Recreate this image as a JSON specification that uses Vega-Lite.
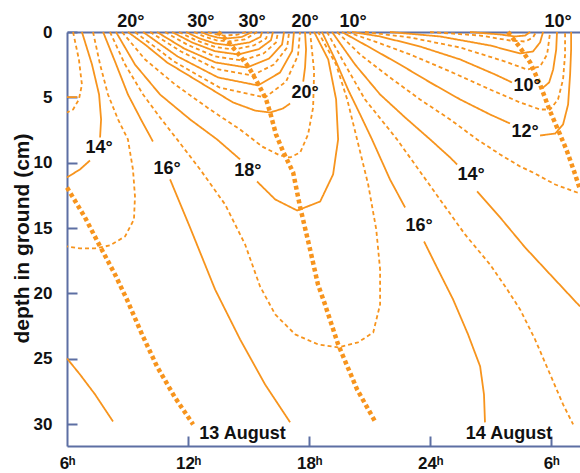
{
"$schema":"https://vega.github.io/schema/vega-lite/v6.json",
"width":513,"height":414,
"autosize":{"type":"none"},
"padding":{"left":67,"top":32,"right":0,"bottom":27},
"background":"white",
"config":{"view":{"stroke":null},"font":"Liberation Sans"},
"resolve":{"axis":{"x":"independent","y":"independent"}},
"datasets":{
"contours":[
{"c":"L12","k":"s","hour":6.0,"depth":4.98},{"c":"L12","k":"s","hour":6.5,"depth":4.98},
{"c":"L13","k":"d","hour":6.30,"depth":0},{"c":"L13","k":"d","hour":6.59,"depth":2.10},{"c":"L13","k":"d","hour":6.74,"depth":4.02},{"c":"L13","k":"d","hour":6.59,"depth":5.16},{"c":"L13","k":"d","hour":6.30,"depth":5.93},{"c":"L13","k":"d","hour":6.00,"depth":6.16},
{"c":"L14a","k":"s","hour":6.74,"depth":0},{"c":"L14a","k":"s","hour":7.24,"depth":2.49},{"c":"L14a","k":"s","hour":7.59,"depth":4.78},{"c":"L14a","k":"s","hour":7.69,"depth":6.69},{"c":"L14a","k":"s","hour":7.64,"depth":8.07},
{"c":"L14b","k":"s","hour":7.14,"depth":9.83},{"c":"L14b","k":"s","hour":6.64,"depth":10.52},{"c":"L14b","k":"s","hour":6.00,"depth":11.13},
{"c":"L15","k":"d","hour":7.29,"depth":0},{"c":"L15","k":"d","hour":7.64,"depth":2.49},{"c":"L15","k":"d","hour":8.03,"depth":4.78},{"c":"L15","k":"d","hour":8.53,"depth":6.69},{"c":"L15","k":"d","hour":9.02,"depth":8.22},{"c":"L15","k":"d","hour":9.27,"depth":10.52},{"c":"L15","k":"d","hour":9.37,"depth":12.58},{"c":"L15","k":"d","hour":9.32,"depth":14.34},{"c":"L15","k":"d","hour":8.88,"depth":15.64},{"c":"L15","k":"d","hour":8.13,"depth":16.33},{"c":"L15","k":"d","hour":7.39,"depth":16.56},{"c":"L15","k":"d","hour":6.64,"depth":16.56},{"c":"L15","k":"d","hour":6.00,"depth":16.41},
{"c":"L16a","k":"s","hour":7.79,"depth":0},{"c":"L16a","k":"s","hour":8.38,"depth":2.26},{"c":"L16a","k":"s","hour":9.02,"depth":4.78},{"c":"L16a","k":"s","hour":9.72,"depth":6.85},{"c":"L16a","k":"s","hour":10.26,"depth":8.38},
{"c":"L16b","k":"s","hour":11.11,"depth":11.28},{"c":"L16b","k":"s","hour":12.10,"depth":14.96},{"c":"L16b","k":"s","hour":13.34,"depth":19.70},{"c":"L16b","k":"s","hour":14.58,"depth":23.52},{"c":"L16b","k":"s","hour":15.82,"depth":26.97},{"c":"L16b","k":"s","hour":17.06,"depth":29.87},
{"c":"L16z","k":"s","hour":6.00,"depth":24.98},{"c":"L16z","k":"s","hour":6.64,"depth":26.20},{"c":"L16z","k":"s","hour":7.39,"depth":27.73},{"c":"L16z","k":"s","hour":8.28,"depth":29.80},
{"c":"L17","k":"d","hour":8.13,"depth":0},{"c":"L17","k":"d","hour":8.88,"depth":2.49},{"c":"L17","k":"d","hour":9.77,"depth":4.78},{"c":"L17","k":"d","hour":10.61,"depth":6.54},{"c":"L17","k":"d","hour":11.46,"depth":8.22},{"c":"L17","k":"d","hour":12.60,"depth":10.52},{"c":"L17","k":"d","hour":13.84,"depth":13.20},{"c":"L17","k":"d","hour":14.83,"depth":16.26},{"c":"L17","k":"d","hour":15.57,"depth":19.47},{"c":"L17","k":"d","hour":16.32,"depth":21.61},{"c":"L17","k":"d","hour":17.31,"depth":23.14},{"c":"L17","k":"d","hour":18.45,"depth":23.91},{"c":"L17","k":"d","hour":19.44,"depth":24.14},{"c":"L17","k":"d","hour":20.43,"depth":23.75},{"c":"L17","k":"d","hour":21.18,"depth":22.99},{"c":"L17","k":"d","hour":21.52,"depth":20.85},{"c":"L17","k":"d","hour":21.52,"depth":18.17},{"c":"L17","k":"d","hour":21.33,"depth":15.11},{"c":"L17","k":"d","hour":20.93,"depth":11.67},{"c":"L17","k":"d","hour":20.38,"depth":8.22},{"c":"L17","k":"d","hour":19.89,"depth":5.16},{"c":"L17","k":"d","hour":19.34,"depth":2.49},{"c":"L17","k":"d","hour":18.45,"depth":0},
{"c":"L18a","k":"s","hour":8.43,"depth":0},{"c":"L18a","k":"s","hour":9.37,"depth":2.49},{"c":"L18a","k":"s","hour":10.61,"depth":4.78},{"c":"L18a","k":"s","hour":12.10,"depth":6.69},{"c":"L18a","k":"s","hour":13.44,"depth":8.22},{"c":"L18a","k":"s","hour":14.58,"depth":9.75},
{"c":"L18b","k":"s","hour":15.42,"depth":11.44},{"c":"L18b","k":"s","hour":16.32,"depth":12.81},{"c":"L18b","k":"s","hour":17.41,"depth":13.66},{"c":"L18b","k":"s","hour":18.55,"depth":12.97},{"c":"L18b","k":"s","hour":19.19,"depth":10.90},{"c":"L18b","k":"s","hour":19.44,"depth":8.22},{"c":"L18b","k":"s","hour":19.34,"depth":5.16},{"c":"L18b","k":"s","hour":18.95,"depth":2.10},{"c":"L18b","k":"s","hour":18.25,"depth":0},
{"c":"L19","k":"d","hour":8.73,"depth":0},{"c":"L19","k":"d","hour":9.87,"depth":2.10},{"c":"L19","k":"d","hour":11.36,"depth":4.02},{"c":"L19","k":"d","hour":13.09,"depth":5.93},{"c":"L19","k":"d","hour":14.58,"depth":7.46},{"c":"L19","k":"d","hour":15.67,"depth":8.76},{"c":"L19","k":"d","hour":16.56,"depth":9.45},{"c":"L19","k":"d","hour":17.06,"depth":9.60},{"c":"L19","k":"d","hour":17.56,"depth":9.22},{"c":"L19","k":"d","hour":17.95,"depth":7.84},{"c":"L19","k":"d","hour":18.20,"depth":5.78},{"c":"L19","k":"d","hour":18.25,"depth":3.02},{"c":"L19","k":"d","hour":18.05,"depth":0},
{"c":"L20a","k":"s","hour":9.02,"depth":0},{"c":"L20a","k":"s","hour":9.87,"depth":0.96},{"c":"L20a","k":"s","hour":10.96,"depth":2.33},{"c":"L20a","k":"s","hour":12.60,"depth":3.86},{"c":"L20a","k":"s","hour":14.23,"depth":5.39},{"c":"L20a","k":"s","hour":15.32,"depth":6.01},{"c":"L20a","k":"s","hour":16.07,"depth":6.16},{"c":"L20a","k":"s","hour":16.71,"depth":5.85},{"c":"L20a","k":"s","hour":17.06,"depth":5.47},
{"c":"L20b","k":"s","hour":17.71,"depth":3.79},{"c":"L20b","k":"s","hour":17.80,"depth":2.72},{"c":"L20b","k":"s","hour":17.85,"depth":1.34},{"c":"L20b","k":"s","hour":17.80,"depth":0},
{"c":"L21","k":"d","hour":9.37,"depth":0},{"c":"L21","k":"d","hour":11.31,"depth":2.26},{"c":"L21","k":"d","hour":13.56,"depth":4.25},{"c":"L21","k":"d","hour":15.82,"depth":5.01},{"c":"L21","k":"d","hour":16.86,"depth":3.79},{"c":"L21","k":"d","hour":17.45,"depth":1.80},{"c":"L21","k":"d","hour":17.55,"depth":0},
{"c":"L22","k":"s","hour":9.77,"depth":0},{"c":"L22","k":"s","hour":11.48,"depth":1.87},{"c":"L22","k":"s","hour":13.49,"depth":3.48},{"c":"L22","k":"s","hour":15.47,"depth":4.09},{"c":"L22","k":"s","hour":16.56,"depth":3.10},{"c":"L22","k":"s","hour":17.16,"depth":1.45},{"c":"L22","k":"s","hour":17.25,"depth":0},
{"c":"L23","k":"d","hour":10.12,"depth":0},{"c":"L23","k":"d","hour":11.65,"depth":1.49},{"c":"L23","k":"d","hour":13.39,"depth":2.83},{"c":"L23","k":"d","hour":15.17,"depth":3.33},{"c":"L23","k":"d","hour":16.26,"depth":2.49},{"c":"L23","k":"d","hour":16.91,"depth":1.19},{"c":"L23","k":"d","hour":17.01,"depth":0},
{"c":"L24","k":"s","hour":10.46,"depth":0},{"c":"L24","k":"s","hour":11.80,"depth":1.26},{"c":"L24","k":"s","hour":13.36,"depth":2.33},{"c":"L24","k":"s","hour":14.92,"depth":2.72},{"c":"L24","k":"s","hour":16.02,"depth":2.03},{"c":"L24","k":"s","hour":16.66,"depth":0.96},{"c":"L24","k":"s","hour":16.76,"depth":0},
{"c":"L25","k":"d","hour":10.86,"depth":0},{"c":"L25","k":"d","hour":12.00,"depth":1.00},{"c":"L25","k":"d","hour":13.34,"depth":1.87},{"c":"L25","k":"d","hour":14.68,"depth":2.18},{"c":"L25","k":"d","hour":15.75,"depth":1.64},{"c":"L25","k":"d","hour":16.36,"depth":0.80},{"c":"L25","k":"d","hour":16.46,"depth":0},
{"c":"L26","k":"s","hour":11.21,"depth":0},{"c":"L26","k":"s","hour":12.20,"depth":0.80},{"c":"L26","k":"s","hour":13.34,"depth":1.47},{"c":"L26","k":"s","hour":14.48,"depth":1.72},{"c":"L26","k":"s","hour":15.52,"depth":1.30},{"c":"L26","k":"s","hour":16.11,"depth":0.63},{"c":"L26","k":"s","hour":16.21,"depth":0},
{"c":"L27","k":"d","hour":11.55,"depth":0},{"c":"L27","k":"d","hour":12.37,"depth":0.62},{"c":"L27","k":"d","hour":13.34,"depth":1.15},{"c":"L27","k":"d","hour":14.28,"depth":1.34},{"c":"L27","k":"d","hour":15.27,"depth":1.02},{"c":"L27","k":"d","hour":15.87,"depth":0.50},{"c":"L27","k":"d","hour":15.97,"depth":0},
{"c":"L28","k":"s","hour":11.90,"depth":0},{"c":"L28","k":"s","hour":12.57,"depth":0.49},{"c":"L28","k":"s","hour":13.34,"depth":0.88},{"c":"L28","k":"s","hour":14.13,"depth":1.03},{"c":"L28","k":"s","hour":15.05,"depth":0.79},{"c":"L28","k":"s","hour":15.59,"depth":0.38},{"c":"L28","k":"s","hour":15.67,"depth":0},
{"c":"L29","k":"d","hour":12.30,"depth":0},{"c":"L29","k":"d","hour":12.79,"depth":0.34},{"c":"L29","k":"d","hour":13.39,"depth":0.63},{"c":"L29","k":"d","hour":13.98,"depth":0.73},{"c":"L29","k":"d","hour":14.83,"depth":0.56},{"c":"L29","k":"d","hour":15.42,"depth":0},
{"c":"L30","k":"s","hour":12.64,"depth":0},{"c":"L30","k":"s","hour":13.02,"depth":0.24},{"c":"L30","k":"s","hour":13.44,"depth":0.42},{"c":"L30","k":"s","hour":13.88,"depth":0.50},{"c":"L30","k":"s","hour":14.66,"depth":0.38},{"c":"L30","k":"s","hour":15.17,"depth":0},
{"c":"L31","k":"d","hour":12.99,"depth":0},{"c":"L31","k":"d","hour":13.24,"depth":0.15},{"c":"L31","k":"d","hour":13.78,"depth":0.27},{"c":"L31","k":"d","hour":14.43,"depth":0.21},{"c":"L31","k":"d","hour":14.87,"depth":0},
{"c":"R16a","k":"s","hour":18.64,"depth":0},{"c":"R16a","k":"s","hour":19.29,"depth":2.10},{"c":"R16a","k":"s","hour":19.93,"depth":4.40},{"c":"R16a","k":"s","hour":20.53,"depth":6.31},{"c":"R16a","k":"s","hour":21.12,"depth":8.22},{"c":"R16a","k":"s","hour":22.01,"depth":11.28},{"c":"R16a","k":"s","hour":22.76,"depth":13.43},
{"c":"R16b","k":"s","hour":23.70,"depth":16.03},{"c":"R16b","k":"s","hour":24.34,"depth":18.02},{"c":"R16b","k":"s","hour":25.14,"depth":20.47},{"c":"R16b","k":"s","hour":25.88,"depth":23.14},{"c":"R16b","k":"s","hour":26.48,"depth":25.59},{"c":"R16b","k":"s","hour":26.67,"depth":27.73},{"c":"R16b","k":"s","hour":26.72,"depth":29.87},
{"c":"R15","k":"d","hour":18.89,"depth":0},{"c":"R15","k":"d","hour":19.78,"depth":2.49},{"c":"R15","k":"d","hour":20.77,"depth":5.16},{"c":"R15","k":"d","hour":21.77,"depth":7.08},{"c":"R15","k":"d","hour":22.36,"depth":8.22},{"c":"R15","k":"d","hour":23.25,"depth":10.14},{"c":"R15","k":"d","hour":24.49,"depth":12.82},{"c":"R15","k":"d","hour":25.73,"depth":15.49},{"c":"R15","k":"d","hour":26.97,"depth":17.79},{"c":"R15","k":"d","hour":27.82,"depth":19.70},{"c":"R15","k":"d","hour":28.46,"depth":21.23},{"c":"R15","k":"d","hour":29.20,"depth":23.52},{"c":"R15","k":"d","hour":29.95,"depth":26.20},{"c":"R15","k":"d","hour":30.59,"depth":28.50},{"c":"R15","k":"d","hour":31.09,"depth":30.03},
{"c":"R14a","k":"s","hour":19.14,"depth":0},{"c":"R14a","k":"s","hour":20.28,"depth":2.49},{"c":"R14a","k":"s","hour":21.52,"depth":4.78},{"c":"R14a","k":"s","hour":22.76,"depth":6.54},{"c":"R14a","k":"s","hour":24.00,"depth":8.22},{"c":"R14a","k":"s","hour":24.99,"depth":9.60},{"c":"R14a","k":"s","hour":25.34,"depth":10.14},
{"c":"R14b","k":"s","hour":26.33,"depth":12.20},{"c":"R14b","k":"s","hour":27.47,"depth":14.19},{"c":"R14b","k":"s","hour":28.71,"depth":16.49},{"c":"R14b","k":"s","hour":29.95,"depth":18.55},{"c":"R14b","k":"s","hour":31.43,"depth":21.00},
{"c":"R13","k":"d","hour":19.39,"depth":0},{"c":"R13","k":"d","hour":20.53,"depth":1.72},{"c":"R13","k":"d","hour":22.01,"depth":3.48},{"c":"R13","k":"d","hour":23.50,"depth":5.16},{"c":"R13","k":"d","hour":24.99,"depth":6.69},{"c":"R13","k":"d","hour":26.33,"depth":8.22},{"c":"R13","k":"d","hour":27.47,"depth":9.37},{"c":"R13","k":"d","hour":28.46,"depth":10.29},{"c":"R13","k":"d","hour":29.10,"depth":10.75},{"c":"R13","k":"d","hour":30.20,"depth":11.67},{"c":"R13","k":"d","hour":31.29,"depth":12.28},{"c":"R13","k":"d","hour":31.43,"depth":12.30},
{"c":"R12a","k":"s","hour":19.63,"depth":0},{"c":"R12a","k":"s","hour":21.02,"depth":1.19},{"c":"R12a","k":"s","hour":22.51,"depth":2.49},{"c":"R12a","k":"s","hour":24.00,"depth":3.86},{"c":"R12a","k":"s","hour":25.49,"depth":5.16},{"c":"R12a","k":"s","hour":26.97,"depth":6.31},{"c":"R12a","k":"s","hour":27.96,"depth":7.00},
{"c":"R12b","k":"s","hour":29.45,"depth":7.92},{"c":"R12b","k":"s","hour":30.20,"depth":7.77},{"c":"R12b","k":"s","hour":30.59,"depth":7.08},{"c":"R12b","k":"s","hour":30.84,"depth":5.55},{"c":"R12b","k":"s","hour":30.94,"depth":3.25},{"c":"R12b","k":"s","hour":30.99,"depth":1.34},{"c":"R12b","k":"s","hour":30.99,"depth":0},
{"c":"R11","k":"d","hour":19.88,"depth":0},{"c":"R11","k":"d","hour":21.27,"depth":0.73},{"c":"R11","k":"d","hour":23.01,"depth":1.72},{"c":"R11","k":"d","hour":24.99,"depth":3.02},{"c":"R11","k":"d","hour":26.97,"depth":4.40},{"c":"R11","k":"d","hour":28.46,"depth":5.39},{"c":"R11","k":"d","hour":29.45,"depth":5.93},{"c":"R11","k":"d","hour":29.95,"depth":5.93},{"c":"R11","k":"d","hour":30.34,"depth":5.16},{"c":"R11","k":"d","hour":30.59,"depth":3.63},{"c":"R11","k":"d","hour":30.69,"depth":1.72},{"c":"R11","k":"d","hour":30.69,"depth":0},
{"c":"R10a","k":"s","hour":20.13,"depth":0},{"c":"R10a","k":"s","hour":21.52,"depth":0.34},{"c":"R10a","k":"s","hour":23.50,"depth":1.11},{"c":"R10a","k":"s","hour":25.49,"depth":2.10},{"c":"R10a","k":"s","hour":27.22,"depth":3.25},{"c":"R10a","k":"s","hour":28.06,"depth":3.86},
{"c":"R10b","k":"s","hour":29.55,"depth":4.32},{"c":"R10b","k":"s","hour":29.90,"depth":3.86},{"c":"R10b","k":"s","hour":30.10,"depth":2.87},{"c":"R10b","k":"s","hour":30.25,"depth":1.34},{"c":"R10b","k":"s","hour":30.29,"depth":0},
{"c":"R9","k":"d","hour":20.77,"depth":0},{"c":"R9","k":"d","hour":23.01,"depth":0.42},{"c":"R9","k":"d","hour":25.49,"depth":1.19},{"c":"R9","k":"d","hour":27.72,"depth":2.26},{"c":"R9","k":"d","hour":28.81,"depth":2.87},{"c":"R9","k":"d","hour":29.45,"depth":2.64},{"c":"R9","k":"d","hour":29.80,"depth":1.72},{"c":"R9","k":"d","hour":29.95,"depth":0},
{"c":"R8","k":"s","hour":22.01,"depth":0},{"c":"R8","k":"s","hour":24.49,"depth":0.34},{"c":"R8","k":"s","hour":26.97,"depth":1.03},{"c":"R8","k":"s","hour":28.46,"depth":1.64},{"c":"R8","k":"s","hour":29.10,"depth":1.49},{"c":"R8","k":"s","hour":29.45,"depth":0.80},{"c":"R8","k":"s","hour":29.60,"depth":0},
{"c":"R7","k":"d","hour":24.00,"depth":0},{"c":"R7","k":"d","hour":26.48,"depth":0.27},{"c":"R7","k":"d","hour":27.96,"depth":0.65},{"c":"R7","k":"d","hour":28.71,"depth":0.73},{"c":"R7","k":"d","hour":29.10,"depth":0.42},{"c":"R7","k":"d","hour":29.25,"depth":0},
{"c":"R6","k":"s","hour":25.98,"depth":0},{"c":"R6","k":"s","hour":27.47,"depth":0.19},{"c":"R6","k":"s","hour":28.21,"depth":0.34},{"c":"R6","k":"s","hour":28.71,"depth":0.27},{"c":"R6","k":"s","hour":28.96,"depth":0}
],
"ridges":[
{"c":"M1","hour":6.00,"depth":11.90},{"c":"M1","hour":6.89,"depth":14.19},{"c":"M1","hour":7.64,"depth":16.41},{"c":"M1","hour":8.38,"depth":18.55},{"c":"M1","hour":8.97,"depth":20.47},{"c":"M1","hour":9.72,"depth":23.14},{"c":"M1","hour":10.46,"depth":25.59},{"c":"M1","hour":11.35,"depth":27.96},{"c":"M1","hour":12.25,"depth":30.03},
{"c":"M2","hour":13.49,"depth":0},{"c":"M2","hour":13.98,"depth":0.73},{"c":"M2","hour":14.48,"depth":1.64},{"c":"M2","hour":15.02,"depth":2.72},{"c":"M2","hour":15.52,"depth":4.09},{"c":"M2","hour":15.87,"depth":5.16},{"c":"M2","hour":16.07,"depth":6.16},{"c":"M2","hour":16.36,"depth":7.84},{"c":"M2","hour":16.71,"depth":9.14},{"c":"M2","hour":17.21,"depth":10.75},{"c":"M2","hour":17.55,"depth":13.35},{"c":"M2","hour":18.05,"depth":16.64},{"c":"M2","hour":18.44,"depth":19.32},{"c":"M2","hour":18.74,"depth":20.62},{"c":"M2","hour":19.44,"depth":23.91},{"c":"M2","hour":20.38,"depth":27.35},{"c":"M2","hour":21.27,"depth":29.80},
{"c":"M3","hour":27.86,"depth":0},{"c":"M3","hour":28.46,"depth":1.19},{"c":"M3","hour":28.96,"depth":2.33},{"c":"M3","hour":29.45,"depth":4.02},{"c":"M3","hour":29.95,"depth":6.08},{"c":"M3","hour":30.44,"depth":7.84},{"c":"M3","hour":30.79,"depth":9.14},{"c":"M3","hour":31.14,"depth":10.67},{"c":"M3","hour":31.43,"depth":12.05}
],
"labels":[
{"label":"14°","hour":7.59,"depth":8.84},
{"label":"16°","hour":10.96,"depth":10.52},
{"label":"18°","hour":14.97,"depth":10.60},
{"label":"20°","hour":17.80,"depth":4.70},
{"label":"16°","hour":23.45,"depth":14.88},
{"label":"14°","hour":26.03,"depth":10.98},
{"label":"12°","hour":28.71,"depth":7.69},
{"label":"10°","hour":28.81,"depth":4.17},
{"label":"20°","hour":9.17,"depth":-0.75},
{"label":"30°","hour":12.64,"depth":-0.75},
{"label":"30°","hour":15.17,"depth":-0.75},
{"label":"20°","hour":17.80,"depth":-0.75},
{"label":"10°","hour":20.18,"depth":-0.75},
{"label":"10°","hour":30.34,"depth":-0.75},
{"label":"13 August","hour":14.70,"depth":30.79},
{"label":"14 August","hour":27.91,"depth":30.79}
]
},
"layer":[
{
"data":{"name":"contours"},
"mark":{"type":"line","color":"#f7941d","strokeWidth":1.8,"strokeCap":"butt","strokeJoin":"round"},
"encoding":{
"x":{"field":"hour","type":"quantitative","scale":{"domain":[6,31.43],"nice":false,"zero":false},
"axis":{"orient":"bottom","values":[6,12,18,24,30],"labelExpr":"(datum.value == 30 ? 6 : datum.value) + 'ʰ'","title":null,"grid":false,"domainColor":"#5d6fa3","domainWidth":2,"ticks":false,"labelPadding":9,"labelFont":"Liberation Sans","labelFontSize":17,"labelFontWeight":"bold","labelColor":"#111111","labelFlush":false,"labelOverlap":false}},
"y":{"field":"depth","type":"quantitative","scale":{"domain":[0,31.68],"nice":false,"zero":false,"reverse":true},
"axis":{"orient":"left","values":[0,5,10,15,20,25,30],"title":"depth in ground (cm)","titleFont":"Liberation Sans","titleFontSize":21,"titleFontWeight":"bold","titleColor":"#111111","titleX":-45,"titleY":206,"titleAngle":-90,"titleAlign":"center","titleBaseline":"middle","grid":false,"domainColor":"#5d6fa3","domainWidth":2,"ticks":false,"labelPadding":15,"labelFont":"Liberation Sans","labelFontSize":17,"labelFontWeight":"bold","labelColor":"#111111","labelFlush":false,"labelOverlap":false}},
"detail":{"field":"c"},
"order":{"value":null},
"strokeDash":{"field":"k","type":"nominal","scale":{"domain":["s","d"],"range":[[1,0],[4,3]]},"legend":null}
}
},
{
"data":{"name":"ridges"},
"mark":{"type":"line","color":"#f7941d","strokeWidth":4.5,"strokeDash":[4,3],"strokeCap":"butt"},
"encoding":{
"x":{"field":"hour","type":"quantitative","axis":{"orient":"bottom","offset":-10,"values":[12,18,24,30],"domain":false,"labels":false,"ticks":true,"tickSize":10,"tickWidth":2,"tickColor":"#5d6fa3","title":null,"grid":false}},
"y":{"field":"depth","type":"quantitative","axis":{"orient":"left","offset":-10,"values":[0,5,10,15,20,25,30],"domain":false,"labels":false,"ticks":true,"tickSize":10,"tickWidth":2,"tickColor":"#5d6fa3","title":null,"grid":false}},
"detail":{"field":"c"},
"order":{"value":null}
}
},
{
"data":{"name":"labels"},
"mark":{"type":"text","font":"Liberation Sans","fontSize":18,"fontWeight":"bold","color":"#111111","align":"center","baseline":"middle"},
"encoding":{
"x":{"field":"hour","type":"quantitative","axis":{"orient":"top","labels":false,"ticks":false,"title":null,"grid":false,"domainColor":"#5d6fa3","domainWidth":2}},
"y":{"field":"depth","type":"quantitative","axis":null},
"text":{"field":"label"}
}
}
]
}
